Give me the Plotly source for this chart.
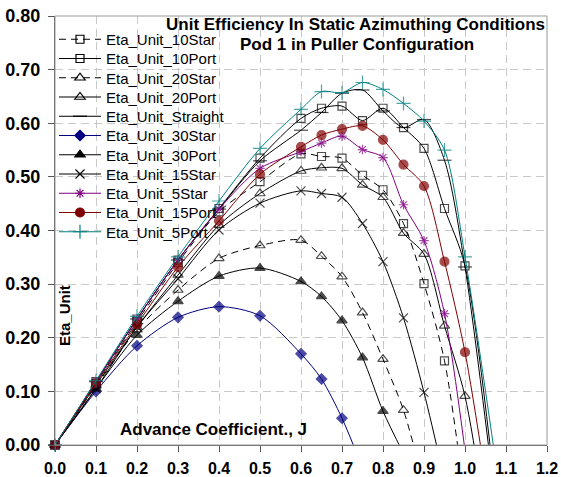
import plotly.graph_objects as go

# ---------------- data ----------------
J = [0.0, 0.1, 0.2, 0.3, 0.4, 0.5, 0.6, 0.65, 0.7, 0.75, 0.8, 0.85, 0.9, 0.95, 1.0, 1.05, 1.1]

eta_10star = [0.0, 0.115, 0.230, 0.340, 0.435, 0.491, 0.543, 0.538, 0.535, 0.503, 0.476, 0.413, 0.301, 0.157, -0.105, None, None]
eta_10port = [0.0, 0.118, 0.235, 0.345, 0.441, 0.535, 0.609, 0.628, 0.632, 0.605, 0.628, 0.592, 0.553, 0.441, 0.334, None, -0.272]
eta_20star = [0.0, 0.110, 0.215, 0.289, 0.348, 0.372, 0.382, 0.352, 0.314, 0.247, 0.160, 0.065, -0.076, None, None, None, None]
eta_20port = [0.0, 0.112, 0.220, 0.317, 0.410, 0.469, 0.511, 0.517, 0.516, 0.485, 0.462, 0.395, 0.356, 0.222, 0.091, -0.136, None]
eta_straight = [0.0, 0.118, 0.235, 0.345, 0.440, 0.530, 0.587, 0.620, 0.656, 0.662, 0.623, 0.592, 0.607, 0.531, 0.332, None, -0.272]
eta_30star = [0.0, 0.100, 0.185, 0.238, 0.258, 0.241, 0.170, 0.123, 0.050, -0.043, None, None, None, None, None, None, None]
eta_30port = [0.0, 0.105, 0.205, 0.268, 0.315, 0.330, 0.305, 0.277, 0.232, 0.163, 0.063, -0.016, None, None, None, None, None]
eta_15star = [0.0, 0.105, 0.220, 0.310, 0.401, 0.451, 0.474, 0.469, 0.462, 0.413, 0.342, 0.237, 0.098, -0.065, None, None, None]
eta_5star = [0.0, 0.118, 0.235, 0.345, 0.440, 0.516, 0.547, 0.563, 0.576, 0.551, 0.536, 0.448, 0.381, 0.245, -0.010, None, None]
eta_15port = [0.0, 0.115, 0.225, 0.332, 0.418, 0.505, 0.556, 0.578, 0.589, 0.595, 0.569, 0.523, 0.483, 0.342, 0.173, -0.061, None]
eta_5port = [0.0, 0.120, 0.240, 0.351, 0.455, 0.553, 0.626, 0.659, 0.657, 0.676, 0.663, 0.637, 0.604, 0.550, 0.351, None, -0.165]

series_names = ["Eta_Unit_10Star", "Eta_Unit_10Port", "Eta_Unit_20Star", "Eta_Unit_20Port",
                "Eta_Unit_Straight", "Eta_Unit_30Star", "Eta_Unit_30Port", "Eta_Unit_15Star",
                "Eta_Unit_5Star", "Eta_Unit_15Port", "Eta_Unit_5Port"]
series_values = [eta_10star, eta_10port, eta_20star, eta_20port, eta_straight, eta_30star,
                 eta_30port, eta_15star, eta_5star, eta_15port, eta_5port]

x_ticks = [0.0, 0.1, 0.2, 0.3, 0.4, 0.5, 0.6, 0.7, 0.8, 0.9, 1.0, 1.1, 1.2]
y_ticks = [0.0, 0.1, 0.2, 0.3, 0.4, 0.5, 0.6, 0.7, 0.8]

title_1 = "Unit Efficiency In Static Azimuthing Conditions"
title_2 = "Pod 1 in Puller Configuration"
x_title = "Advance Coefficient., J"
y_title = "Eta_Unit"

# ---------------- styles ----------------
BLACK = "#000000"
styles = [
    dict(color=BLACK, dash="7px,5px", symbol="square-open", size=8),
    dict(color=BLACK, dash="solid", symbol="square-open", size=8),
    dict(color=BLACK, dash="7px,5px", symbol="triangle-up-open", size=9),
    dict(color=BLACK, dash="solid", symbol="triangle-up-open", size=9),
    dict(color=BLACK, dash="solid", symbol="line-ew-open", size=10),
    dict(color="#000080", dash="solid", symbol="diamond", size=8),
    dict(color=BLACK, dash="solid", symbol="triangle-up", size=9),
    dict(color=BLACK, dash="solid", symbol="x-thin-open", size=9),
    dict(color="#800080", dash="solid", symbol="asterisk-open", size=8),
    dict(color="#800000", dash="solid", symbol="circle", size=9),
    dict(color="#008080", dash="solid", symbol="cross-thin-open", size=10),
]

FONT = "Liberation Sans, Arial, sans-serif"
W, H = 561, 477
ML, MR, MT, MB = 55, 14, 16, 32
PW, PH = W - ML - MR, H - MT - MB


def px_x(px):
    return (px - ML) / PW


def px_y(py):
    return (H - MB - py) / PH


fig = go.Figure()
layout_legends = {}
for i, (name, vals, st) in enumerate(zip(series_names, series_values, styles)):
    sizes = [0 if (v is None or v < 0) else st["size"] for v in vals]
    lg = "legend" if i == 0 else f"legend{i + 1}"
    line = dict(color=st["color"], width=1, dash=st["dash"], shape="spline", smoothing=0.8)
    mline = dict(color=st["color"], width=1.2)
    # data trace
    fig.add_trace(go.Scatter(
        x=J, y=vals, name=name, mode="lines+markers", connectgaps=True,
        line=line,
        marker=dict(symbol=st["symbol"], size=sizes, color=st["color"], line=mline),
        cliponaxis=False, showlegend=False, legendgroup=name,
    ))
    # legend entry
    fig.add_trace(go.Scatter(
        x=[None], y=[None], name=name, mode="lines+markers",
        line=line,
        marker=dict(symbol=st["symbol"], size=st["size"], color=st["color"], line=mline),
        showlegend=True, legendgroup=name, legend=lg,
    ))
    layout_legends[lg] = dict(
        x=px_x(54), y=px_y(39.5 + 19.25 * i), xanchor="left", yanchor="middle",
        bgcolor="rgba(0,0,0,0)", borderwidth=0,
        font=dict(family=FONT, size=15, color="#000000"),
        itemwidth=42, tracegroupgap=0,
    )

axis_common = dict(
    showline=True, linecolor="#555555", linewidth=1, automargin=False,
    ticks="outside", ticklen=6, tickcolor="#555555", tickwidth=1,
    showgrid=True, gridcolor="#c8c8c8", gridwidth=1, griddash="8px,5px",
    zeroline=False,
)

fig.update_layout(
    width=W, height=H,
    margin=dict(l=ML, r=MR, t=MT, b=MB, autoexpand=False),
    paper_bgcolor="white", plot_bgcolor="white",
    showlegend=True,
    xaxis=dict(range=[0, 1.2], tickvals=x_ticks, tickformat=".1f", ticklabelstandoff=3,
               tickfont=dict(family=FONT, size=16, color="#000000", weight="bold"), **axis_common),
    yaxis=dict(range=[0, 0.8], tickvals=y_ticks, tickformat=".2f", ticklabelstandoff=4,
               tickfont=dict(family=FONT, size=18, color="#000000", weight="bold"), **axis_common),
    **layout_legends,
)

# white boxes behind legend and title (hide gridlines), plot border
fig.add_shape(type="rect", xref="paper", yref="paper", layer="between",
              x0=px_x(56), x1=px_x(232), y0=px_y(245), y1=px_y(24),
              fillcolor="white", line=dict(width=0))
fig.add_shape(type="rect", xref="paper", yref="paper", layer="between",
              x0=px_x(162), x1=px_x(546), y0=px_y(56), y1=px_y(22),
              fillcolor="white", line=dict(width=0))
fig.add_shape(type="rect", xref="paper", yref="paper", layer="above",
              x0=0, x1=1, y0=0, y1=1, line=dict(color="#999999", width=1))

ann_font = dict(family=FONT, size=17, color="#000000", weight="bold")
fig.add_annotation(text=title_1, xref="paper", yref="paper", x=px_x(355), y=px_y(24),
                   showarrow=False, font=ann_font, xanchor="center", yanchor="middle")
fig.add_annotation(text=title_2, xref="paper", yref="paper", x=px_x(357), y=px_y(44),
                   showarrow=False, font=ann_font, xanchor="center", yanchor="middle")
fig.add_annotation(text=x_title, xref="paper", yref="paper", x=px_x(213), y=px_y(429),
                   showarrow=False, font=ann_font, xanchor="center", yanchor="middle")
fig.add_annotation(text=y_title, xref="paper", yref="paper", x=px_x(64), y=px_y(316),
                   showarrow=False, font=dict(family=FONT, size=15, color="#000000", weight="bold"),
                   textangle=-90, xanchor="center", yanchor="middle")

fig.write_html("out.html")
